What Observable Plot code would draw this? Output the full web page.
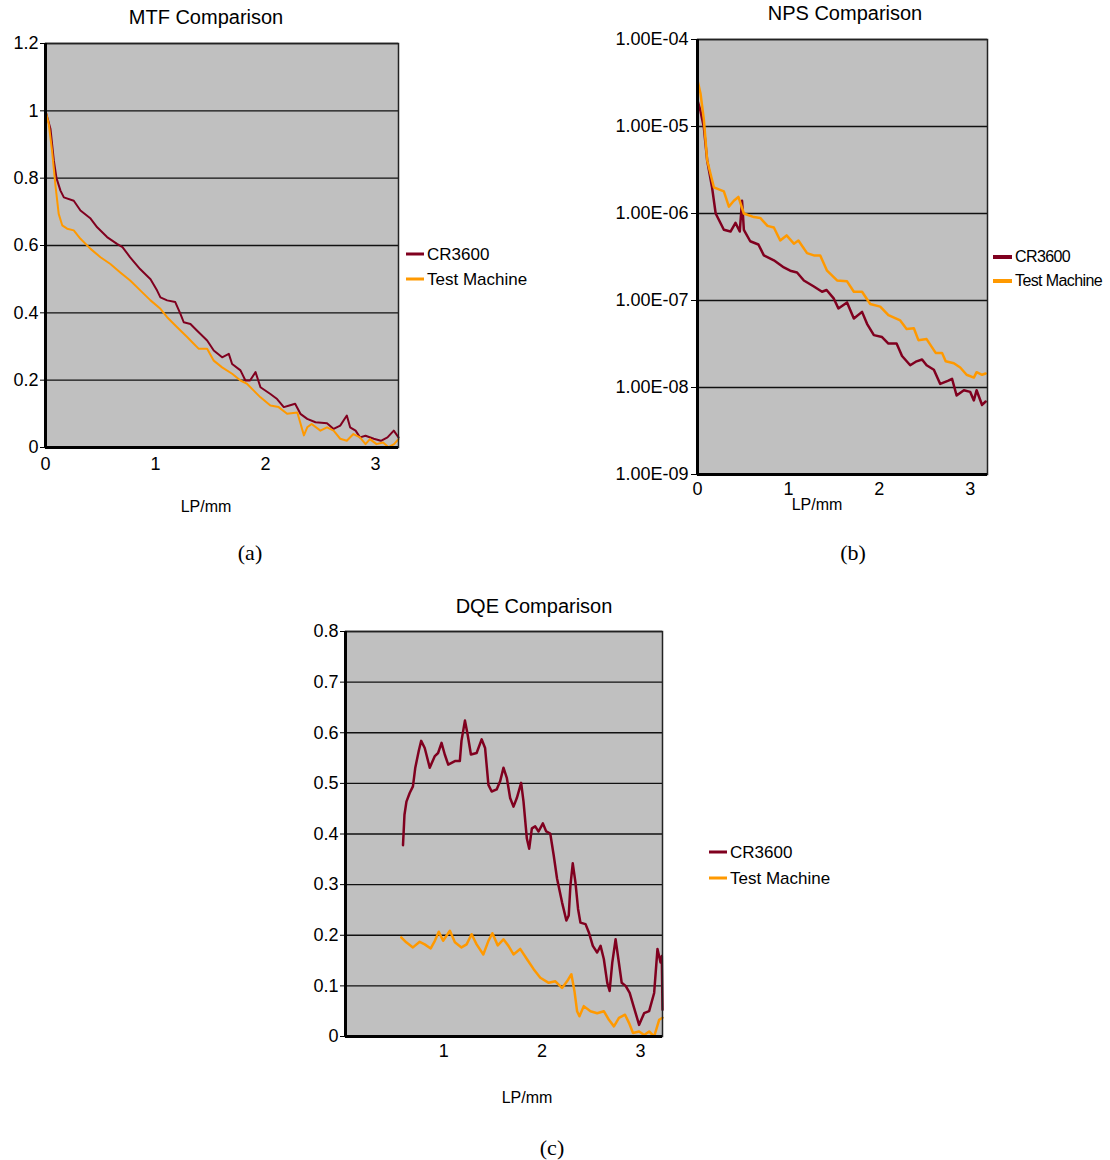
<!DOCTYPE html>
<html><head><meta charset="utf-8">
<script src="https://cdn.jsdelivr.net/npm/d3@7"></script>
<script src="https://cdn.jsdelivr.net/npm/@observablehq/plot@0.6"></script>
<style>
body{margin:0;background:#fff;}
#page{position:relative;width:1110px;height:1160px;overflow:hidden;font-family:"Liberation Sans",Arial,sans-serif;color:#000;background:#fff;}
.c{position:absolute;transform:translate(-50%,-50%);line-height:1;white-space:nowrap;}
.title{font-size:20px;}
.xlab{font-size:16px;}
.cap{font-family:"Liberation Serif","DejaVu Serif",serif;font-size:22px;}
.leg{position:absolute;font-size:17px;line-height:1;white-space:nowrap;display:flex;align-items:center;transform:translateY(-50%);}
.leg .sw{display:inline-block;width:18px;height:3px;margin-right:3px;}
.chart{position:absolute;}
</style></head>
<body><div id="page"></div>
<script>
// ---------- series names / colours ----------
const seriesNames = ["CR3600", "Test Machine"];
const seriesColors = ["#80001f", "#ff9900"];

// ---------- (a) MTF ----------
const mtfCrX = [0,0.045,0.076,0.1,0.136,0.167,0.257,0.318,0.41,0.47,0.56,0.65,0.70,0.77,0.86,0.955,1.015,1.045,1.106,1.18,1.227,1.257,1.318,1.379,1.47,1.53,1.606,1.667,1.697,1.773,1.818,1.86,1.91,1.955,2.045,2.106,2.167,2.21,2.27,2.318,2.38,2.455,2.56,2.62,2.68,2.74,2.77,2.82,2.86,2.91,2.985,3.05,3.11,3.167,3.21];
const mtfCrY = [1.0,0.947,0.852,0.80,0.763,0.743,0.733,0.704,0.68,0.654,0.625,0.605,0.595,0.565,0.53,0.50,0.466,0.446,0.437,0.432,0.397,0.372,0.367,0.347,0.318,0.288,0.268,0.278,0.248,0.229,0.199,0.199,0.224,0.179,0.159,0.144,0.12,0.124,0.13,0.10,0.085,0.075,0.072,0.055,0.065,0.095,0.06,0.05,0.03,0.035,0.026,0.02,0.03,0.05,0.03];
const mtfTmX = [0,0.03,0.06,0.09,0.12,0.152,0.197,0.257,0.318,0.41,0.5,0.59,0.68,0.77,0.864,0.955,1.045,1.106,1.197,1.288,1.348,1.394,1.47,1.53,1.606,1.697,1.773,1.83,1.894,1.955,2.045,2.12,2.197,2.29,2.35,2.38,2.42,2.5,2.56,2.62,2.68,2.74,2.80,2.86,2.91,2.95,3.01,3.07,3.12,3.17,3.21];
const mtfTmY = [1.0,0.96,0.88,0.78,0.694,0.66,0.65,0.645,0.62,0.59,0.565,0.545,0.52,0.496,0.466,0.437,0.412,0.387,0.357,0.328,0.308,0.293,0.293,0.258,0.238,0.219,0.199,0.19,0.169,0.149,0.125,0.12,0.10,0.104,0.036,0.06,0.07,0.05,0.06,0.05,0.026,0.02,0.04,0.03,0.01,0.025,0.01,0.015,0.001,0.01,0.025];
const mtfXTicks = [0, 1, 2, 3];
const mtfYTicks = [0, 0.2, 0.4, 0.6, 0.8, 1, 1.2];
const mtfYLabels = ["0", "0.2", "0.4", "0.6", "0.8", "1", "1.2"];

// ---------- (b) NPS ----------
const npsCrX = [0,0.033,0.07,0.106,0.16,0.2,0.29,0.363,0.418,0.465,0.49,0.51,0.58,0.67,0.73,0.84,0.95,1.02,1.095,1.17,1.28,1.37,1.42,1.50,1.55,1.645,1.72,1.81,1.865,1.94,2.03,2.10,2.19,2.25,2.34,2.41,2.47,2.52,2.60,2.67,2.76,2.80,2.85,2.93,3.0,3.04,3.07,3.13,3.17];
const npsCrY = [2.0e-5,1.5e-5,9.8e-6,4.1e-6,2.0e-6,1.0e-6,6.5e-7,6.2e-7,7.8e-7,6.2e-7,1.4e-6,6.5e-7,4.8e-7,4.4e-7,3.3e-7,2.9e-7,2.4e-7,2.2e-7,2.1e-7,1.7e-7,1.45e-7,1.26e-7,1.32e-7,1.05e-7,8.1e-8,9.5e-8,6.2e-8,7.4e-8,5.4e-8,4.0e-8,3.8e-8,3.2e-8,3.2e-8,2.3e-8,1.8e-8,2.0e-8,2.1e-8,1.8e-8,1.6e-8,1.1e-8,1.2e-8,1.26e-8,8.1e-9,9.3e-9,8.9e-9,7.1e-9,9.3e-9,6.3e-9,6.9e-9];
const npsTmX = [0,0.033,0.07,0.106,0.18,0.29,0.345,0.40,0.45,0.51,0.62,0.69,0.77,0.84,0.91,0.98,1.06,1.11,1.205,1.28,1.35,1.425,1.535,1.645,1.72,1.81,1.90,2.01,2.10,2.23,2.30,2.38,2.43,2.52,2.62,2.69,2.73,2.82,2.89,2.96,3.04,3.07,3.13,3.17];
const npsTmY = [3.4e-5,2.4e-5,1.2e-5,4.1e-6,2.0e-6,1.8e-6,1.2e-6,1.4e-6,1.55e-6,1.0e-6,9.1e-7,8.9e-7,7.2e-7,6.9e-7,4.9e-7,5.6e-7,4.5e-7,4.9e-7,3.5e-7,3.3e-7,3.3e-7,2.2e-7,1.7e-7,1.66e-7,1.26e-7,1.26e-7,9.1e-8,8.5e-8,6.8e-8,5.9e-8,4.7e-8,4.8e-8,3.5e-8,3.6e-8,2.5e-8,2.5e-8,2.0e-8,1.9e-8,1.7e-8,1.4e-8,1.3e-8,1.5e-8,1.4e-8,1.45e-8];
const npsXTicks = [0, 1, 2, 3];
const npsYTicks = [1e-9, 1e-8, 1e-7, 1e-6, 1e-5, 1e-4];
const npsYLabels = ["1.00E-09", "1.00E-08", "1.00E-07", "1.00E-06", "1.00E-05", "1.00E-04"];

// ---------- (c) DQE ----------
const dqeCrX = [0.585,0.60,0.62,0.653,0.686,0.71,0.745,0.77,0.806,0.857,0.909,0.942,0.977,1.01,1.045,1.113,1.163,1.18,1.215,1.242,1.276,1.334,1.385,1.42,1.454,1.487,1.538,1.573,1.607,1.641,1.675,1.709,1.743,1.787,1.811,1.845,1.869,1.896,1.93,1.964,2.008,2.042,2.083,2.118,2.152,2.203,2.247,2.271,2.288,2.312,2.339,2.366,2.39,2.442,2.475,2.516,2.56,2.595,2.628,2.663,2.687,2.714,2.748,2.776,2.81,2.85,2.891,2.935,2.987,3.038,3.089,3.14,3.174,3.205,3.218,3.225];
const dqeCrY = [0.378,0.438,0.464,0.481,0.494,0.531,0.564,0.584,0.570,0.531,0.554,0.560,0.580,0.557,0.537,0.544,0.544,0.584,0.624,0.597,0.557,0.560,0.587,0.570,0.497,0.484,0.488,0.504,0.531,0.511,0.471,0.454,0.471,0.501,0.464,0.391,0.371,0.411,0.415,0.405,0.421,0.405,0.401,0.358,0.312,0.265,0.229,0.239,0.298,0.342,0.305,0.252,0.225,0.222,0.206,0.179,0.166,0.179,0.153,0.106,0.090,0.146,0.192,0.153,0.106,0.100,0.086,0.057,0.023,0.046,0.050,0.086,0.173,0.146,0.159,0.053];
const dqeTmX = [0.567,0.618,0.686,0.755,0.806,0.867,0.909,0.949,0.993,1.062,1.113,1.18,1.232,1.283,1.334,1.402,1.454,1.494,1.549,1.607,1.658,1.709,1.777,1.845,1.914,1.982,2.067,2.135,2.203,2.254,2.298,2.329,2.356,2.38,2.424,2.492,2.56,2.628,2.68,2.731,2.782,2.844,2.884,2.925,2.987,3.038,3.089,3.14,3.191,3.225];
const dqeTmY = [0.196,0.186,0.176,0.187,0.182,0.174,0.189,0.207,0.189,0.209,0.186,0.176,0.182,0.202,0.182,0.162,0.189,0.204,0.180,0.192,0.179,0.162,0.173,0.153,0.133,0.116,0.106,0.109,0.096,0.109,0.123,0.090,0.050,0.040,0.060,0.050,0.046,0.050,0.033,0.020,0.037,0.043,0.027,0.007,0.010,0.003,0.010,0.000,0.033,0.037];
const dqeXTicks = [1, 2, 3];
const dqeYTicks = [0, 0.1, 0.2, 0.3, 0.4, 0.5, 0.6, 0.7, 0.8];
const dqeYLabels = ["0", "0.1", "0.2", "0.3", "0.4", "0.5", "0.6", "0.7", "0.8"];

const page = document.getElementById("page");
const toRows = (xs, ys) => xs.map((x, i) => ({x, y: ys[i]}));
const labelFor = (ticks, labels) => (d) => {
  let best = 0, bd = Infinity;
  ticks.forEach((t, i) => { const e = Math.abs(t - d) / (Math.abs(t) || 1); if (e < bd) { bd = e; best = i; } });
  return labels[best];
};

function makeChart(o) {
  const svg = Plot.plot({
    width: o.width, height: o.height,
    marginLeft: o.ml, marginRight: o.mr, marginTop: o.mt, marginBottom: o.mb,
    style: {fontFamily: "'Liberation Sans', Arial, sans-serif", fontSize: o.fs || "17px", background: "transparent", color: "#000", overflow: "visible"},
    x: {domain: o.xDomain, ticks: o.xTicks, tickSize: 0, tickPadding: o.xPad, tickFormat: (d) => String(d), label: null},
    y: {type: o.yType || "linear", domain: o.yDomain, ticks: o.yTicks, tickSize: o.yTickSize, tickPadding: o.yPad, tickFormat: labelFor(o.yTicks, o.yLabels), label: null},
    marks: [
      Plot.frame({fill: "#c0c0c0", stroke: "none"}),
      Plot.ruleY(o.yTicks, {stroke: "#111", strokeWidth: 1.4}),
      Plot.line(toRows(o.crX, o.crY), {x: "x", y: "y", stroke: seriesColors[0], strokeWidth: o.lw}),
      Plot.line(toRows(o.tmX, o.tmY), {x: "x", y: "y", stroke: seriesColors[1], strokeWidth: o.lw}),
      Plot.frame({fill: "none", stroke: "#222", strokeWidth: 1.5}),
      Plot.ruleX([o.xDomain[0]], {stroke: "#000", strokeWidth: 3}),
      Plot.ruleY([o.yDomain[0]], {stroke: "#000", strokeWidth: 3})
    ]
  });
  const wrap = document.createElement("div");
  wrap.className = "chart";
  wrap.style.left = o.left + "px";
  wrap.style.top = o.top + "px";
  wrap.appendChild(svg);
  page.appendChild(wrap);
}

function addText(cls, text, x, y) {
  const d = document.createElement("div");
  d.className = "c " + cls;
  d.textContent = text;
  d.style.left = x + "px";
  d.style.top = y + "px";
  page.appendChild(d);
}
function addLegend(x, y, dy, sw, fs, ls, sh) {
  seriesNames.forEach((name, i) => {
    const d = document.createElement("div");
    d.className = "leg";
    d.style.left = x + "px";
    d.style.top = (y + i * dy) + "px";
    if (fs) d.style.fontSize = fs;
    if (ls) d.style.letterSpacing = ls;
    const s = document.createElement("span");
    s.className = "sw";
    s.style.background = seriesColors[i];
    s.style.width = sw + "px";
    if (sh) s.style.height = sh + "px";
    d.appendChild(s);
    d.appendChild(document.createTextNode(name));
    page.appendChild(d);
  });
}

// (a)
makeChart({left: 0, top: 30, width: 420, height: 470, ml: 45, mr: 22, mt: 13, mb: 53,
  xDomain: [0, 3.21], xTicks: mtfXTicks, xPad: 10, yDomain: [0, 1.2], yTicks: mtfYTicks, yLabels: mtfYLabels,
  yTickSize: 5, yPad: 2, lw: 2, crX: mtfCrX, crY: mtfCrY, tmX: mtfTmX, tmY: mtfTmY, fs: "18px"});
addText("title", "MTF Comparison", 206, 17);
addText("xlab", "LP/mm", 206, 507);
addLegend(406, 254, 25, 18);
addText("cap", "(a)", 250, 553);

// (b)
makeChart({left: 600, top: 25, width: 400, height: 480, ml: 97, mr: 13, mt: 14, mb: 31,
  xDomain: [0, 3.19], xTicks: npsXTicks, xPad: 8, yType: "log", yDomain: [1e-9, 1e-4], yTicks: npsYTicks, yLabels: npsYLabels,
  yTickSize: 6, yPad: 3, lw: 2.5, crX: npsCrX, crY: npsCrY, tmX: npsTmX, tmY: npsTmY, fs: "18px"});
addText("title", "NPS Comparison", 845, 13);
addText("xlab", "LP/mm", 817, 505);
addLegend(993, 257, 24, 19, "16px", "-0.6px", 4);
addText("cap", "(b)", 853, 553);

// (c)
makeChart({left: 300, top: 620, width: 380, height: 450, ml: 45, mr: 18, mt: 11, mb: 34,
  xDomain: [0, 3.225], xTicks: dqeXTicks, xPad: 8, yDomain: [0, 0.8], yTicks: dqeYTicks, yLabels: dqeYLabels,
  yTickSize: 5, yPad: 2, lw: 2.5, crX: dqeCrX, crY: dqeCrY, tmX: dqeTmX, tmY: dqeTmY, fs: "18px"});
addText("title", "DQE Comparison", 534, 606);
addText("xlab", "LP/mm", 527, 1098);
addLegend(709, 852, 26, 18);
addText("cap", "(c)", 552, 1148);
</script>
</body></html>
